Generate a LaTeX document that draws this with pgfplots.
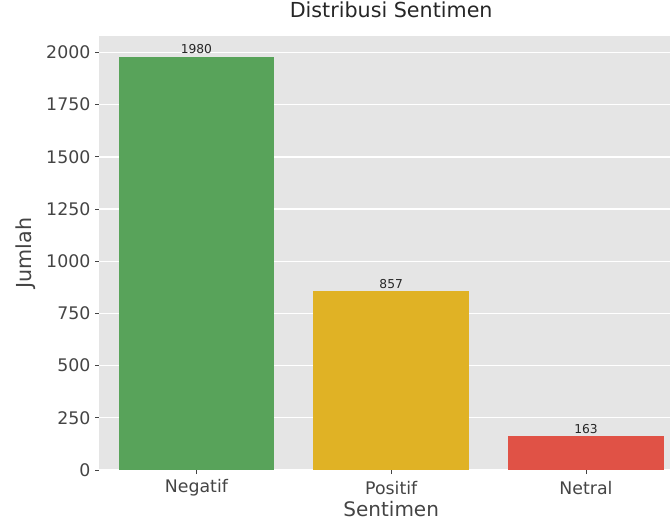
\documentclass[border=0pt]{standalone}
\usepackage{fontspec}
\setmainfont{DejaVu Sans}
\usepackage{pgfplots}
\pgfplotsset{compat=1.18}
\definecolor{bggray}{HTML}{E5E5E5}
\definecolor{cgreen}{HTML}{58A35A}
\definecolor{cyellow}{HTML}{E0B225}
\definecolor{cred}{HTML}{E05246}
\definecolor{tickcol}{HTML}{444444}
\begin{document}
\begin{tikzpicture}
\useasboundingbox (-74.3pt,-39pt) rectangle (428.2pt,352.5pt);
\begin{axis}[
  at={(0,0)}, anchor=south west,
  scale only axis, width=438.2pt, height=325.5pt,
  xmin=-0.5, xmax=2.5, ymin=0, ymax=2079,
  axis background/.style={fill=bggray},
  axis line style={draw=none},
  xtick={0,1,2}, xticklabels={Negatif,Positif,Netral},
  ytick={0,250,...,2000},
  ymajorgrids, grid style={white, line width=1pt},
  tick align=outside, tick pos=left,
  major tick length=3pt,
  tick style={tickcol, line width=0.6pt},
  /pgf/number format/assume math mode=true,
  /pgf/number format/1000 sep={},
  ticklabel style={font=\fontsize{13}{15}\selectfont, text=tickcol},
  xticklabel style={anchor=center, yshift=-10.5pt},
  title={Distribusi Sentimen},
  title style={font=\fontsize{15.5}{17}\selectfont, text=black!85, at={(axis description cs:0.5,1)}, anchor=center, yshift=13.5pt},
  xlabel={Sentimen},
  xlabel style={font=\fontsize{15}{17}\selectfont, text=tickcol, at={(axis description cs:0.5,0)}, anchor=center, yshift=-29.5pt},
  ylabel={Jumlah},
  ylabel style={font=\fontsize{15.5}{17}\selectfont, text=tickcol, at={(axis description cs:0,0.5)}, anchor=center, yshift=55pt},
  ybar, bar width=116.9pt,
  nodes near coords,
  nodes near coords style={font=\fontsize{9.2}{10}\selectfont, text=black!85, /pgf/number format/assume math mode=true, yshift=-1.5pt},
]
\addplot[bar shift=0pt, fill=cgreen, draw=none] coordinates {(0,1980)};
\addplot[bar shift=0pt, fill=cyellow, draw=none] coordinates {(1,857)};
\addplot[bar shift=0pt, fill=cred, draw=none] coordinates {(2,163)};
\end{axis}
\end{tikzpicture}
\end{document}
